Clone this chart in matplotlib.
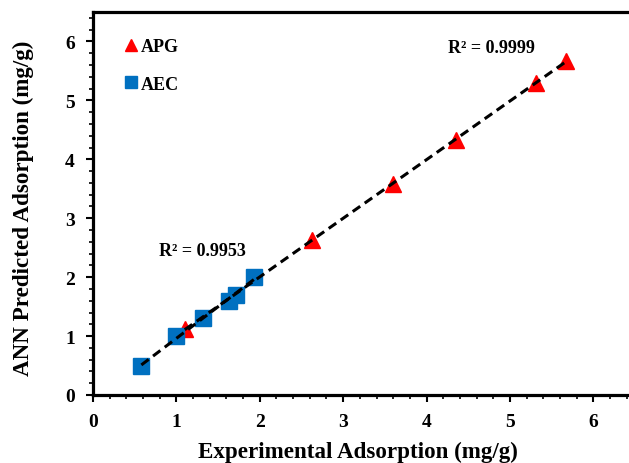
import numpy as np
import matplotlib
matplotlib.use("Agg")
import matplotlib.pyplot as plt
from matplotlib.ticker import MultipleLocator

plt.rcParams['font.family'] = ['Liberation Serif', 'DejaVu Serif']
plt.rcParams['font.weight'] = 'bold'

apg_exp = [1.10, 2.63, 3.60, 4.35, 5.31, 5.67]
apg_pred = [1.12, 2.63, 3.58, 4.33, 5.30, 5.67]
aec_exp = [0.58, 1.00, 1.32, 1.63, 1.71, 1.93]
aec_pred = [0.50, 1.00, 1.30, 1.60, 1.69, 2.01]
r2_apg = "R² = 0.9999"
r2_aec = "R² = 0.9953"
xticks = [0, 1, 2, 3, 4, 5, 6]
yticks = [0, 1, 2, 3, 4, 5, 6]

fig = plt.figure(figsize=(6.29, 4.64), dpi=100)
ax = fig.add_axes([93/629, 68/464, 542/629, 383/464])

# trend lines
for xs, ys in [(aec_exp, aec_pred), (apg_exp, apg_pred)]:
    c = np.polyfit(xs, ys, 1)
    xx = np.array([min(xs), max(xs)])
    ax.plot(xx, np.polyval(c, xx), color='black', ls=(0, (3.0, 1.8)), lw=2.2, zorder=3)

ax.plot(apg_exp, apg_pred, ls='none', marker='^', ms=12, color='#FF0000',
        mec='#FF0000', label='APG', zorder=2)
ax.plot(aec_exp, aec_pred, ls='none', marker='s', ms=11, color='#0070C0',
        mec='#0070C0', label='AEC', zorder=2)

ax.set_xlim(0, 6.5)
ax.set_ylim(0, 6.5)
ax.set_xticks(xticks)
ax.set_yticks(yticks)
ax.xaxis.set_minor_locator(MultipleLocator(0.2))
ax.yaxis.set_minor_locator(MultipleLocator(0.2))
ax.tick_params(which='major', direction='out', length=5, width=1.5, labelsize=14, pad=8)
ax.tick_params(which='minor', direction='out', length=3, width=1.2)
for lab in ax.get_xticklabels() + ax.get_yticklabels():
    lab.set_fontweight('bold')
for s in ax.spines.values():
    s.set_linewidth(2.3)

ax.set_xlabel('Experimental Adsorption (mg/g)', fontsize=16.6, fontweight='bold')
ax.set_ylabel('ANN Predicted Adsorption (mg/g)', fontsize=16.6, fontweight='bold')
ax.xaxis.set_label_coords((358 - 93) / 542, -0.119)
ax.yaxis.set_label_coords(-0.108, (396 - 208) / 383)

ax.text(4.776, 5.9, r2_apg, fontsize=13, fontweight='bold', ha='center', va='center')
ax.text(1.31, 2.45, r2_aec, fontsize=13, fontweight='bold', ha='center', va='center')

leg = ax.legend(loc='upper left', bbox_to_anchor=(0.030, 0.975), frameon=False,
                handlelength=0.6, handletextpad=0.25, labelspacing=1.15,
                markerscale=0.75, prop={'size': 13, 'weight': 'bold'},
                borderaxespad=0.3, borderpad=0.6)

fig.savefig('out.png', dpi=100)
